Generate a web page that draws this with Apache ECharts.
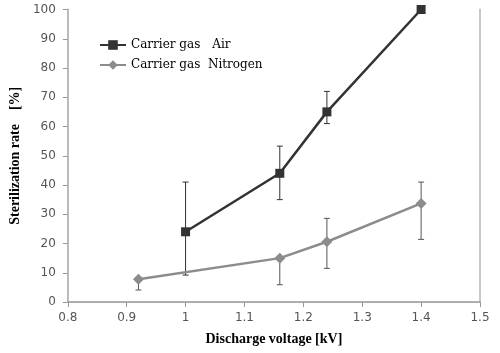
<!DOCTYPE html>
<html>
<head>
<meta charset="utf-8">
<script src="https://cdn.jsdelivr.net/npm/echarts@6/dist/echarts.min.js"></script>
<style>
  html, body { margin: 0; padding: 0; background: #fff; }
  #chart { width: 500px; height: 353px; }
</style>
</head>
<body>
<div id="chart"></div>
<script>
// discharge voltage [kV]
var airX = [1.0, 1.16, 1.24, 1.4];
var airY = [24, 44, 65, 100];
var airLow = [9.2, 35, 61, 100];
var airHigh = [41, 53.3, 72, 100];

var n2X = [0.92, 1.16, 1.24, 1.4];
var n2Y = [7.8, 15, 20.6, 33.7];
var n2Low = [4.1, 5.9, 11.5, 21.4];
var n2High = [7.8, 15, 28.6, 41];

var xTicks = [0.8, 0.9, 1, 1.1, 1.2, 1.3, 1.4, 1.5];

function pairs(xs, ys) {
  return xs.map(function (x, i) { return [x, ys[i]]; });
}
function errRows(xs, lo, hi) {
  return xs.map(function (x, i) { return [x, lo[i], hi[i]]; });
}

// vertical error bar with caps
function errorBar(color) {
  return function (params, api) {
    var lo = api.coord([api.value(0), api.value(1)]);
    var hi = api.coord([api.value(0), api.value(2)]);
    var w = 3;
    var style = { stroke: color, lineWidth: 1 };
    if (Math.abs(hi[1] - lo[1]) < 0.5) return { type: 'group', children: [] };
    return {
      type: 'group',
      children: [
        { type: 'line', shape: { x1: lo[0], y1: lo[1], x2: hi[0], y2: hi[1] }, style: style },
        { type: 'line', shape: { x1: lo[0] - w, y1: lo[1], x2: lo[0] + w, y2: lo[1] }, style: style },
        { type: 'line', shape: { x1: hi[0] - w, y1: hi[1], x2: hi[0] + w, y2: hi[1] }, style: style }
      ]
    };
  };
}

var tickFont = { color: '#555', fontSize: 12, fontFamily: 'DejaVu Sans' };

var myChart = echarts.init(document.getElementById('chart'));
myChart.setOption({
  animation: false,
  grid: { left: 62, right: 20, top: 9.5, bottom: 51 },
  legend: {
    data: ['Carrier gas\u3000Air', 'Carrier gas  Nitrogen'],
    orient: 'vertical',
    left: 94, top: 34,
    itemWidth: 26, itemHeight: 12, itemGap: 8,
    textStyle: { color: '#000', fontSize: 12, fontFamily: 'DejaVu Serif' }
  },
  xAxis: [{
    type: 'value', min: 0.8, max: 1.5, interval: 0.1,
    name: 'Discharge voltage [kV]', nameLocation: 'middle', nameGap: 30,
    nameTextStyle: { color: '#000', fontSize: 14, fontWeight: 'bold', fontFamily: 'Liberation Serif' },
    axisLine: { lineStyle: { color: '#999', width: 1.5 } },
    axisTick: { show: true, inside: false, length: 5, lineStyle: { color: '#999' } },
    axisLabel: Object.assign({ margin: 10, formatter: function (v) { return xTicks.indexOf(+v.toFixed(1)) >= 0 ? String(+v.toFixed(1)) : ''; } }, tickFont),
    splitLine: { show: false }
  }, {
    type: 'value', min: 0.8, max: 1.5, position: 'top',
    axisLine: { show: true, lineStyle: { color: '#aaa', width: 1 } },
    axisTick: { show: false }, axisLabel: { show: false }, splitLine: { show: false }
  }],
  yAxis: [{
    type: 'value', min: 0, max: 100, interval: 10,
    name: 'Sterilization rate    [%]', nameLocation: 'middle', nameGap: 37, nameRotate: 90,
    nameTextStyle: { color: '#000', fontSize: 14, fontWeight: 'bold', fontFamily: 'Liberation Serif' },
    axisLine: { show: true, lineStyle: { color: '#bbb', width: 2 } },
    axisTick: { show: true, inside: false, length: 5, lineStyle: { color: '#999' } },
    axisLabel: Object.assign({ margin: 12 }, tickFont),
    splitLine: { show: false }
  }, {
    type: 'value', min: 0, max: 100, position: 'right',
    axisLine: { show: true, lineStyle: { color: '#c8c8c8', width: 2 } },
    axisTick: { show: false }, axisLabel: { show: false }, splitLine: { show: false }
  }],
  series: [
    {
      name: 'Carrier gas\u3000Air', type: 'line', data: pairs(airX, airY),
      symbol: 'rect', symbolSize: 9,
      lineStyle: { color: '#333', width: 2.5 },
      itemStyle: { color: '#333' }, z: 3
    },
    {
      name: 'Carrier gas  Nitrogen', type: 'line', data: pairs(n2X, n2Y),
      symbol: 'diamond', symbolSize: 11,
      lineStyle: { color: '#8c8c8c', width: 2.5 },
      itemStyle: { color: '#8c8c8c' }, z: 3
    },
    {
      type: 'custom', name: 'airErr', data: errRows(airX, airLow, airHigh),
      renderItem: errorBar('#333'), encode: { x: 0, y: [1, 2] }, z: 2
    },
    {
      type: 'custom', name: 'n2Err', data: errRows(n2X, n2Low, n2High),
      renderItem: errorBar('#555'), encode: { x: 0, y: [1, 2] }, z: 2
    }
  ]
});
</script>
</body>
</html>
